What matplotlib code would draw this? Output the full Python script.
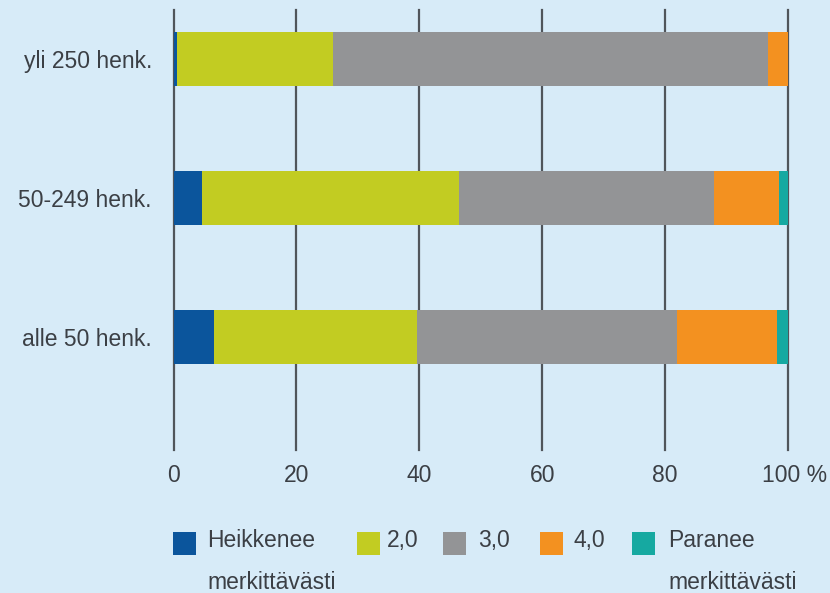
import matplotlib
matplotlib.use("Agg")
import matplotlib.pyplot as plt
from matplotlib.patches import Rectangle
import matplotlib.transforms as mtrans
import numpy as np

categories = ["yli 250 henk.", "50-249 henk.", "alle 50 henk."]
series_labels = ["Heikkenee\nmerkittävästi", "2,0", "3,0", "4,0", "Paranee\nmerkittävästi"]
heikkenee = [0.6, 4.7, 6.6]
v2 = [25.4, 41.7, 33.0]
v3 = [70.7, 41.6, 42.3]
v4 = [3.3, 10.6, 16.3]
paranee = [0.0, 1.4, 1.8]
xticks = [0, 20, 40, 60, 80, 100]
xticklabels = ["0", "20", "40", "60", "80", "100 %"]

colors = ["#0b559c", "#c2cc22", "#939496", "#f39120", "#16a9a1"]
bg = "#d7ebf8"
txt = "#3b3f45"

plt.rcParams['font.family'] = ['Liberation Sans', 'DejaVu Sans']

W, H = 830, 593
fig = plt.figure(figsize=(W / 100, H / 100), dpi=100, facecolor=bg)
ax = fig.add_axes([173.5 / W, 1 - 450 / H, (788 - 173.5) / W, 440 / H])
ax.set_facecolor(bg)

series = [heikkenee, v2, v3, v4, paranee]
y = np.arange(len(categories))
left = np.zeros(len(categories))
for vals, c in zip(series, colors):
    vals = np.array(vals)
    ax.barh(y, vals, left=left, height=0.39, color=c, edgecolor='none', zorder=2)
    left += vals

ax.set_xlim(0, 100)
ax.set_ylim(2 + 0.813, -0.353)
ax.set_xticks(xticks)
ax.set_xticklabels(xticklabels, fontsize=16.5, color=txt)
ax.set_yticks(y)
ax.set_yticklabels(categories, fontsize=16.5, color=txt)
ax.tick_params(axis='both', length=0)
ax.tick_params(axis='y', pad=15.5)
ax.tick_params(axis='x', pad=10)
for s in ax.spines.values():
    s.set_visible(False)
ax.grid(axis='x', color='#50555b', linewidth=1.6)
ax.set_axisbelow(True)
for l in ax.get_xgridlines():
    l.set_clip_on(False)
lab = ax.get_xticklabels()[-1]
lab.set_transform(lab.get_transform() + mtrans.ScaledTranslation(7 / 100, 0, fig.dpi_scale_trans))

# legend
sq_x = [173, 357, 443, 540, 632]
tx_x = [207, 387, 478, 573, 668]
for sx, tx, lbl, c in zip(sq_x, tx_x, series_labels, colors):
    fig.patches.append(Rectangle((sx / W, 1 - 555 / H), 23 / W, 23 / H,
                                 transform=fig.transFigure, facecolor=c, edgecolor='none'))
    fig.text(tx / W, 1 - 529 / H, lbl, fontsize=16.5, color=txt, va='top', ha='left',
             linespacing=2.05)

fig.savefig("out.png", dpi=100, facecolor=bg)
